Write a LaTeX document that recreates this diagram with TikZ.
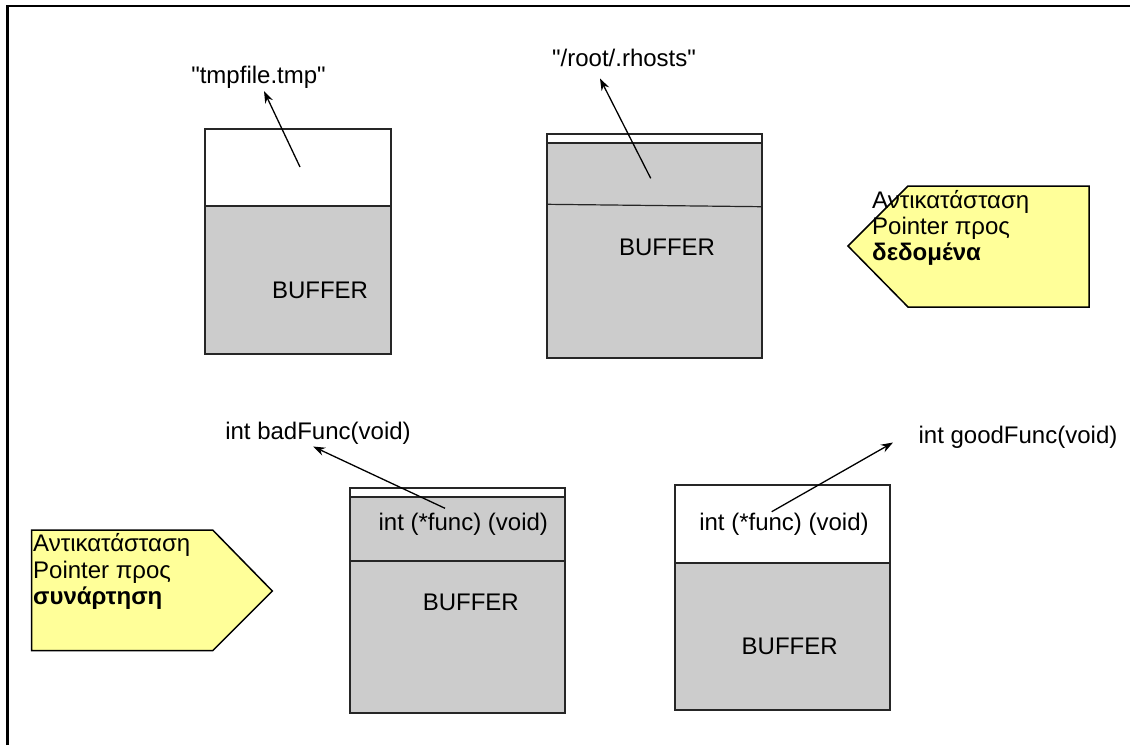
\documentclass[tikz,border=0pt]{standalone}
\usepackage{fontspec}
\setmainfont{Liberation Sans}[Ligatures=TeXOff]
\usetikzlibrary{arrows.meta}
\definecolor{bufgray}{RGB}{204,204,204}
\definecolor{noteyellow}{RGB}{255,255,153}
\begin{document}
\begin{tikzpicture}[x=1pt,y=-1pt,
  txt/.style={font=\fontsize{24}{26}\selectfont, inner sep=0pt, anchor=base},
  ntxt/.style={font=\fontsize{24}{26}\selectfont, inner sep=0pt, anchor=base west},
  outline/.style={draw=black!85, line width=1.2pt},
  ptr/.style={line width=1.3pt, -{Stealth[length=12pt,width=8.5pt]}},
  note/.style={draw=black, line width=1.5pt, fill=noteyellow, line join=miter}]
\useasboundingbox (0,0) rectangle (1130,745);
% frame
\draw[line width=2.5pt] (7.5,745) -- (7.5,6) -- (1130,6);

% box 1
\filldraw[outline, fill=white] (205,129) rectangle (391,206);
\filldraw[outline, fill=bufgray] (205,206) rectangle (391,354);
\node[txt] (buf1) at (320,298) {BUFFER};
\node[txt] (lbl1) at (258.5,83) {"tmpfile.tmp"};
\coordinate (p1s) at (300,167);
\coordinate (p1e) at (264,91);
\draw[ptr] (p1s) -- (p1e);

% box 2
\filldraw[outline, fill=white] (547,134) rectangle (762,143);
\filldraw[outline, fill=bufgray] (547,143) rectangle (762,358);
\draw[outline] (547,204.3) -- (762,206.7);
\node[txt] (buf2) at (667,255) {BUFFER};
\node[txt] (lbl2) at (624,66.5) {"/root/.rhosts"};
\coordinate (p2s) at (650.7,178.3);
\coordinate (p2e) at (600,78.5);
\draw[ptr] (p2s) -- (p2e);

% note 1
\filldraw[note] (908,186) -- (1089,186) -- (1089,307) -- (908,307) -- (848,246) -- cycle;
\node[ntxt] (n1a) at (872,208) {Αντικατάσταση};
\node[ntxt] (n1b) at (872,234) {Pointer προς};
\node[ntxt, font=\fontsize{24}{26}\selectfont\bfseries] (n1c) at (872,260) {δεδομένα};

% box 3
\filldraw[outline, fill=white] (350,488) rectangle (565,497);
\filldraw[outline, fill=bufgray] (350,497) rectangle (565,561);
\filldraw[outline, fill=bufgray] (350,561) rectangle (565,713);
\node[txt] (f3) at (463.3,530) {int (*func) (void)};
\node[txt] (buf3) at (470.8,610) {BUFFER};
\node[txt] (lbl3) at (318,439.3) {int badFunc(void)};
\coordinate (p3s) at (445,508.3);
\coordinate (p3e) at (313,446.5);
\draw[ptr] (p3s) -- (p3e);

% note 2
\filldraw[note] (31.7,530) -- (212.7,530) -- (272.3,591) -- (212.7,650.7) -- (31.7,650.7) -- cycle;
\node[ntxt] (n2a) at (33,551.5) {Αντικατάσταση};
\node[ntxt] (n2b) at (33,578) {Pointer προς};
\node[ntxt, font=\fontsize{24}{26}\selectfont\bfseries] (n2c) at (33,604.5) {συνάρτηση};

% box 4
\filldraw[outline, fill=white] (675,485) rectangle (890,563);
\filldraw[outline, fill=bufgray] (675,563) rectangle (890,710);
\node[txt] (f4) at (784,530.7) {int (*func) (void)};
\node[txt] (buf4) at (789.7,654) {BUFFER};
\node[txt] (lbl4) at (1018,443.3) {int goodFunc(void)};
\coordinate (p4s) at (771.7,511.7);
\coordinate (p4e) at (893,442.5);
\draw[ptr] (p4s) -- (p4e);
\end{tikzpicture}
\end{document}
